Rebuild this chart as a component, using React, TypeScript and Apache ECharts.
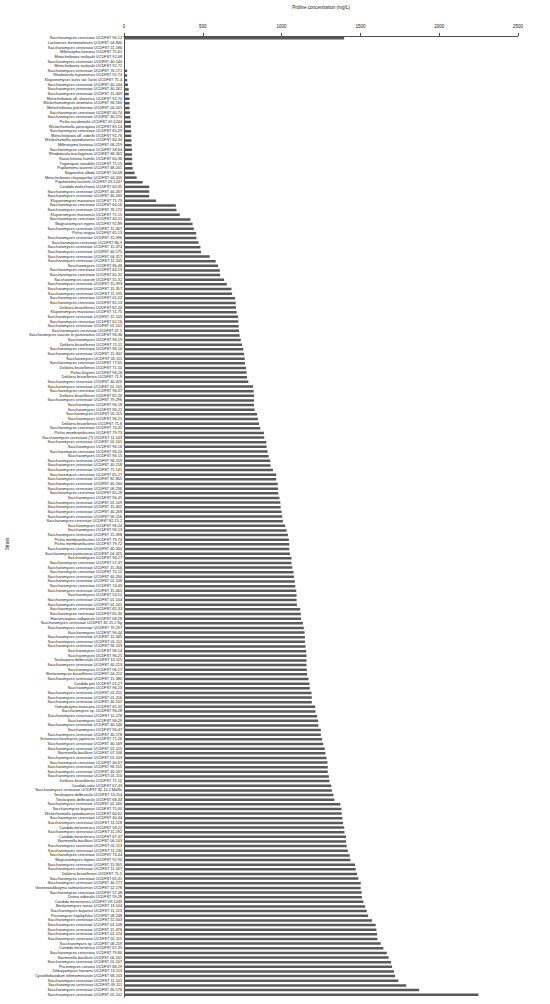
import React, { useEffect, useRef } from "react";
import * as echarts from "echarts";

const strains: string[] = [
  "Saccharomyces cerevisiae UCDFST 96-12",
  "Lachancea thermotolerans UCDFST 04-800",
  "Saccharomyces cerevisiae UCDFST 11-186",
  "Millerozyma farinosa UCDFST 75-61",
  "Metschnikowia reukaufii UCDFST 92-68",
  "Saccharomyces cerevisiae UCDFST 40-140",
  "Metschnikowia reukaufii UCDFST 92-72",
  "Saccharomyces cerevisiae UCDFST 76-171",
  "Rhodotorula fujisanensis UCDFST 92-74",
  "Kluyveromyces lactis var. lactis UCDFST 75-4",
  "Saccharomyces cerevisiae UCDFST 40-144",
  "Saccharomyces cerevisiae UCDFST 40-262",
  "Saccharomyces cerevisiae UCDFST 15-309",
  "Metschnikowia aff. slovenica UCDFST 92-70",
  "Wickerhamomyces anomalus UCDFST 96-160",
  "Metschnikowia pulcherrima UCDFST 04-201",
  "Saccharomyces cerevisiae UCDFST 40-74",
  "Saccharomyces cerevisiae UCDFST 40-170",
  "Pichia occidentalis UCDFST 09-1244",
  "Wickerhamiella pararugosa UCDFST 65-14",
  "Saccharomyces cerevisiae UCDFST 65-29",
  "Metschnikowia aff. zobellii UCDFST 92-76",
  "Wickerhamiella spandovensis UCDFST 60-34",
  "Millerozyma farinosa UCDFST 08-219",
  "Saccharomyces cerevisiae UCDFST 58-64",
  "Rhodotorula mucilaginosa UCDFST 68-302",
  "Kazachstania humilis UCDFST 60-36",
  "Trigonopsis variabilis UCDFST 75-15",
  "Papiliotrema laurentii UCDFST 68-201",
  "Naganishia albida UCDFST 50-68",
  "Metschnikowia chrysoperlae UCDFST 04-203",
  "Papiliotrema laurentii UCDFST 09-1247",
  "Candida molischiana UCDFST 60-35",
  "Saccharomyces cerevisiae UCDFST 40-267",
  "Saccharomyces cerevisiae UCDFST 40-265",
  "Kluyveromyces marxianus UCDFST 71-73",
  "Saccharomyces cerevisiae UCDFST 64-16",
  "Saccharomyces cerevisiae UCDFST 76-172",
  "Kluyveromyces marxianus UCDFST 71-15",
  "Saccharomyces cerevisiae UCDFST 40-51",
  "Magnusiomyces ingens UCDFST 92-89",
  "Saccharomyces cerevisiae UCDFST 15-307",
  "Pichia exigua UCDFST 65-13",
  "Saccharomyces cerevisiae UCDFST 15-396",
  "Saccharomyces cerevisiae UCDFST 86-9",
  "Saccharomyces cerevisiae UCDFST 15-374",
  "Saccharomyces cerevisiae UCDFST 40-175",
  "Saccharomyces cerevisiae UCDFST 04-317",
  "Saccharomyces cerevisiae UCDFST 11-505",
  "Saccharomyces UCDFST 96-46",
  "Saccharomyces cerevisiae UCDFST 64-13",
  "Saccharomyces cerevisiae UCDFST 65-32",
  "Saccharomyces uvarum UCDFST 55-32",
  "Saccharomyces cerevisiae UCDFST 15-393",
  "Saccharomyces cerevisiae UCDFST 15-357",
  "Saccharomyces cerevisiae UCDFST 11-195",
  "Saccharomyces cerevisiae UCDFST 01-22",
  "Saccharomyces cerevisiae UCDFST 65-53",
  "Dekkera bruxellensis UCDFST 82-24",
  "Kluyveromyces marxianus UCDFST 71-75",
  "Saccharomyces cerevisiae UCDFST 12-105",
  "Saccharomyces cerevisiae UCDFST 62-16",
  "Saccharomyces cerevisiae UCDFST 01-102",
  "Saccharomyces cerevisiae UCDFST 07-5",
  "Saccharomyces uvarum or pastorianus UCDFST 96-36",
  "Saccharomyces UCDFST 96-19",
  "Dekkera bruxellensis UCDFST 71-11",
  "Saccharomyces cerevisiae UCDFST 96-10",
  "Saccharomyces cerevisiae UCDFST 15-302",
  "Saccharomyces UCDFST 05-111",
  "Saccharomyces cerevisiae UCDFST 77-65",
  "Dekkera bruxellensis UCDFST 71-10",
  "Pichia kluyveri UCDFST 96-26",
  "Dekkera bruxellensis UCDFST 71-9",
  "Saccharomyces cerevisiae UCDFST 40-420",
  "Saccharomyces cerevisiae UCDFST 01-105",
  "Saccharomyces cerevisiae UCDFST 96-37",
  "Dekkera bruxellensis UCDFST 82-23",
  "Saccharomyces cerevisiae UCDFST 79-296",
  "Saccharomyces UCDFST 96-18",
  "Saccharomyces UCDFST 96-22",
  "Saccharomyces UCDFST 05-115",
  "Saccharomyces UCDFST 96-21",
  "Dekkera bruxellensis UCDFST 71-8",
  "Saccharomyces cerevisiae UCDFST 74-42",
  "Pichia membranifaciens UCDFST 79-73",
  "Saccharomyces cerevisiae (?) UCDFST 11-543",
  "Saccharomyces cerevisiae UCDFST 02-101",
  "Saccharomyces UCDFST 96-16",
  "Saccharomyces cerevisiae UCDFST 96-20",
  "Saccharomyces UCDFST 96-15",
  "Saccharomyces cerevisiae UCDFST 96-159",
  "Saccharomyces cerevisiae UCDFST 40-158",
  "Saccharomyces cerevisiae UCDFST 71-141",
  "Saccharomyces cerevisiae UCDFST 65-27",
  "Saccharomyces cerevisiae UCDFST 82-805",
  "Saccharomyces cerevisiae UCDFST 40-160",
  "Saccharomyces cerevisiae UCDFST 08-236",
  "Saccharomyces cerevisiae UCDFST 65-28",
  "Saccharomyces UCDFST 96-45",
  "Saccharomyces cerevisiae UCDFST 01-109",
  "Saccharomyces cerevisiae UCDFST 15-402",
  "Saccharomyces cerevisiae UCDFST 40-268",
  "Saccharomyces cerevisiae UCDFST 96-156",
  "Saccharomyces cerevisiae UCDFST 82-15.2",
  "Saccharomyces UCDFST 96-24",
  "Saccharomyces UCDFST 96-13",
  "Saccharomyces cerevisiae UCDFST 15-398",
  "Pichia membranifaciens UCDFST 79-74",
  "Pichia membranifaciens UCDFST 79-72",
  "Saccharomyces cerevisiae UCDFST 40-264",
  "Saccharomyces pastorianus UCDFST 04-325",
  "Saccharomyces UCDFST 96-27",
  "Saccharomyces cerevisiae UCDFST 57-47",
  "Saccharomyces cerevisiae UCDFST 15-356",
  "Saccharomyces cerevisiae UCDFST 75-12",
  "Saccharomyces cerevisiae UCDFST 40-260",
  "Saccharomyces cerevisiae UCDFST 01-106",
  "Saccharomyces cerevisiae UCDFST 74-43",
  "Saccharomyces cerevisiae UCDFST 15-405",
  "Saccharomyces UCDFST 54-52",
  "Saccharomyces cerevisiae UCDFST 01-104",
  "Saccharomyces cerevisiae UCDFST 01-101",
  "Saccharomyces cerevisiae UCDFST 65-33",
  "Saccharomyces cerevisiae UCDFST 65-30",
  "Hanseniaspora valbyensis UCDFST 68-28",
  "Saccharomyces cerevisiae UCDFST 82-15.2 Sg",
  "Saccharomyces cerevisiae UCDFST 79-297",
  "Saccharomyces UCDFST 96-44",
  "Saccharomyces cerevisiae UCDFST 15-345",
  "Saccharomyces cerevisiae UCDFST 01-112",
  "Saccharomyces cerevisiae UCDFST 96-103",
  "Saccharomyces UCDFST 96-14",
  "Saccharomyces UCDFST 96-25",
  "Torulaspora delbrueckii UCDFST 13-115",
  "Saccharomyces cerevisiae UCDFST 40-213",
  "Saccharomyces UCDFST 96-17",
  "Brettanomyces bruxellensis UCDFST 04-212",
  "Saccharomyces cerevisiae UCDFST 15-380",
  "Candida pini UCDFST 01-27",
  "Saccharomyces UCDFST 96-23",
  "Saccharomyces cerevisiae UCDFST 01-252",
  "Saccharomyces cerevisiae UCDFST 01-256",
  "Saccharomyces cerevisiae UCDFST 40-101",
  "Yamadazyma mexicana UCDFST 65-32",
  "Saccharomyces sp. UCDFST 96-28",
  "Saccharomyces cerevisiae UCDFST 11-176",
  "Saccharomyces UCDFST 96-29",
  "Saccharomyces cerevisiae UCDFST 40-146",
  "Saccharomyces UCDFST 96-47",
  "Saccharomyces cerevisiae UCDFST 40-178",
  "Schizosaccharomyces japonicus UCDFST 71-26",
  "Saccharomyces cerevisiae UCDFST 40-169",
  "Saccharomyces cerevisiae UCDFST 01-155",
  "Starmerella bacillaris UCDFST 07-106",
  "Saccharomyces cerevisiae UCDFST 01-103",
  "Saccharomyces cerevisiae UCDFST 40-67",
  "Saccharomyces cerevisiae UCDFST 96-155",
  "Saccharomyces cerevisiae UCDFST 40-167",
  "Saccharomyces cerevisiae UCDFST 01-110",
  "Dekkera bruxellensis UCDFST 71-12",
  "Candida sake UCDFST 67-43",
  "Saccharomyces cerevisiae UCDFST 82-15.2 MaRo",
  "Torulaspora delbrueckii UCDFST 13-114",
  "Torulaspora delbrueckii UCDFST 68-34",
  "Saccharomyces cerevisiae UCDFST 01-100",
  "Saccharomyces bayanus UCDFST 75-40",
  "Wickerhamiella spandovensis UCDFST 60-62",
  "Saccharomyces cerevisiae UCDFST 40-44",
  "Saccharomyces cerevisiae UCDFST 11-128",
  "Candida mesenterica UCDFST 58-22",
  "Saccharomyces cerevisiae UCDFST 11-192",
  "Candida mesenterica UCDFST 67-37",
  "Starmerella bacillaris UCDFST 06-143",
  "Saccharomyces cerevisiae UCDFST 01-113",
  "Saccharomyces cerevisiae UCDFST 11-130",
  "Saccharomyces cerevisiae UCDFST 74-44",
  "Magnusiomyces ingens UCDFST 92-90",
  "Saccharomyces cerevisiae UCDFST 15-305",
  "Saccharomyces cerevisiae UCDFST 11-567",
  "Dekkera bruxellensis UCDFST 71-5",
  "Saccharomyces cerevisiae UCDFST 65-31",
  "Saccharomyces cerevisiae UCDFST 40-177",
  "Groenewaldozyma salmanticensis UCDFST 52-178",
  "Saccharomyces cerevisiae UCDFST 57-48",
  "Dutina zabinalis UCDFST 59-28",
  "Candida mesenterica UCDFST 09-1243",
  "Brettanomyces nanus UCDFST 13-104",
  "Saccharomyces bayanus UCDFST 11-123",
  "Priceomyces haplophilus UCDFST 08-248",
  "Saccharomyces cerevisiae UCDFST 11-503",
  "Saccharomyces cerevisiae UCDFST 01-108",
  "Saccharomyces cerevisiae UCDFST 15-376",
  "Saccharomyces cerevisiae UCDFST 01-124",
  "Saccharomyces cerevisiae UCDFST 01-115",
  "Saccharomyces sp. UCDFST 08-259",
  "Candida mesenterica UCDFST 67-35",
  "Saccharomyces cerevisiae UCDFST 79-80",
  "Starmerella bacillaris UCDFST 06-101",
  "Saccharomyces cerevisiae UCDFST 01-107",
  "Priceomyces carsonii UCDFST 68-29",
  "Debaryomyces hansenii UCDFST 13-113",
  "Cystofilobasidium infirmominiatum UCDFST 68-103",
  "Saccharomyces cerevisiae UCDFST 11-101",
  "Saccharomyces cerevisiae UCDFST 09-111",
  "Saccharomyces cerevisiae UCDFST 40-176",
  "Saccharomyces cerevisiae UCDFST 05-102",
];

const proline: number[] = [
  1397, 0, 0, 0, 0, 0, 5, 20, 20, 20,
  25, 30, 30, 35, 35, 35, 38, 40, 44, 44,
  45, 46, 47, 48, 50, 50, 52, 52, 55, 67,
  80, 118, 160, 160, 160, 204, 329, 333, 354, 422,
  435, 443, 458, 460, 473, 485, 489, 544, 582, 597,
  608, 610, 635, 652, 682, 686, 705, 709, 711, 715,
  724, 726, 728, 730, 734, 741, 749, 757, 762, 766,
  768, 774, 778, 781, 789, 819, 823, 825, 825, 825,
  829, 844, 850, 857, 865, 888, 890, 903, 905, 911,
  918, 928, 930, 945, 966, 966, 975, 977, 979, 987,
  992, 994, 1000, 1004, 1008, 1023, 1032, 1040, 1046, 1049,
  1049, 1053, 1063, 1063, 1068, 1076, 1078, 1084, 1087, 1093,
  1095, 1095, 1097, 1118, 1122, 1124, 1135, 1141, 1146, 1148,
  1148, 1152, 1156, 1158, 1158, 1158, 1160, 1162, 1171, 1177,
  1179, 1190, 1192, 1192, 1213, 1215, 1226, 1232, 1234, 1249,
  1249, 1257, 1264, 1274, 1278, 1285, 1291, 1293, 1293, 1300,
  1304, 1315, 1319, 1329, 1335, 1373, 1380, 1382, 1386, 1390,
  1397, 1399, 1409, 1409, 1413, 1420, 1432, 1437, 1466, 1470,
  1479, 1487, 1502, 1502, 1508, 1510, 1519, 1530, 1540, 1549,
  1574, 1597, 1601, 1606, 1608, 1629, 1646, 1667, 1679, 1694,
  1701, 1713, 1720, 1741, 1791, 1873, 2249,
];

const xTicks: number[] = [0, 500, 1000, 1500, 2000, 2500];

const FONT = "Liberation Sans, Arial, sans-serif";

export default function App() {
  const ref = useRef<HTMLDivElement>(null);
  useEffect(() => {
    if (!ref.current) return;
    document.body.style.margin = "0";
    const chart = echarts.init(ref.current, null, { renderer: "svg" });
    const n = Math.min(strains.length, proline.length);
    chart.setOption({
      animation: false,
      backgroundColor: "#ffffff",
      textStyle: { fontFamily: FONT },
      grid: { left: 124, right: 32, top: 33.5, bottom: 7, containLabel: false },
      xAxis: {
        type: "value",
        position: "top",
        min: xTicks[0],
        max: xTicks[xTicks.length - 1],
        interval: xTicks[1] - xTicks[0],
        name: "Proline concentration (mg/L)",
        nameLocation: "middle",
        nameGap: 26,
        nameTextStyle: { fontSize: 4.6, color: "#222", fontFamily: FONT },
        axisLine: { show: true, lineStyle: { color: "#222", width: 0.8 } },
        axisTick: { show: true, length: 3, inside: false, lineStyle: { color: "#222", width: 0.8 } },
        axisLabel: {
          fontSize: 4.5,
          color: "#222",
          margin: 7,
          fontFamily: FONT,
          formatter: (v: number) => String(v),
        },
        splitLine: { show: false },
      },
      yAxis: {
        type: "category",
        inverse: true,
        data: strains.slice(0, n),
        axisLine: { show: true, lineStyle: { color: "#222", width: 0.8 } },
        axisTick: { show: false },
        axisLabel: { interval: 0, fontSize: 3.8, color: "#222", margin: 2, fontFamily: FONT },
        splitLine: { show: false },
      },
      graphic: [
        {
          type: "text",
          x: 7,
          y: 544,
          rotation: Math.PI / 2,
          style: {
            text: "Strain",
            fontSize: 4.6,
            fill: "#222",
            fontFamily: FONT,
            align: "center",
            verticalAlign: "middle",
          },
        },
      ],
      series: [
        {
          type: "bar",
          data: proline.slice(0, n),
          barWidth: 2.5,
          itemStyle: { color: "#595959" },
          silent: true,
        },
      ],
    });
    return () => chart.dispose();
  }, []);
  return <div ref={ref} style={{ width: 550, height: 1004 }} />;
}
